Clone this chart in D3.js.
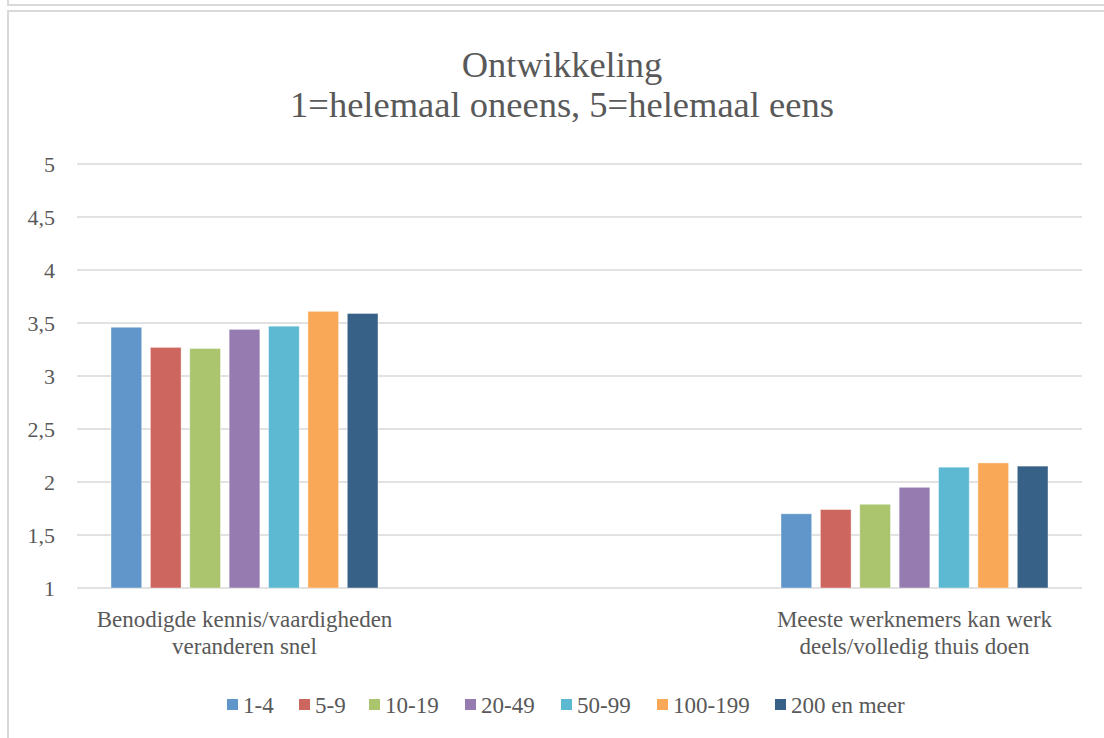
<!DOCTYPE html>
<html>
<head>
<meta charset="utf-8">
<script src="https://cdn.jsdelivr.net/npm/d3@7"></script>
<style>
  html, body { margin: 0; padding: 0; background: #fff; }
  svg { display: block; }
</style>
</head>
<body>
<svg id="chart" width="1104" height="738"></svg>
<script>
// ---- data ----
const titleLines = ["Ontwikkeling", "1=helemaal oneens, 5=helemaal eens"];
const categories = [
  ["Benodigde kennis/vaardigheden", "veranderen snel"],
  ["Meeste werknemers kan werk", "deels/volledig thuis doen"]
];
const seriesNames = ["1-4", "5-9", "10-19", "20-49", "50-99", "100-199", "200 en meer"];
const values1_4     = [3.46, 1.70];
const values5_9     = [3.27, 1.74];
const values10_19   = [3.26, 1.79];
const values20_49   = [3.44, 1.95];
const values50_99   = [3.47, 2.14];
const values100_199 = [3.61, 2.18];
const values200     = [3.59, 2.15];
const yTicks = [1, 1.5, 2, 2.5, 3, 3.5, 4, 4.5, 5];
const colors = ["#6096C9", "#CC665F", "#ABC46E", "#957BB0", "#5DB8D2", "#F9A857", "#376186"];

const seriesValues = [values1_4, values5_9, values10_19, values20_49, values50_99, values100_199, values200];
const catKeys = categories.map(c => c.join(" "));
const FONT = "Liberation Serif";
const TXT = "#595959";

const svg = d3.select("#chart");

// frame
svg.append("path").attr("d", "M8,0 V5 H1104").attr("fill", "none").attr("stroke", "#d9d9d9").attr("stroke-width", 2);
svg.append("path").attr("d", "M8,738 V11 H1104").attr("fill", "none").attr("stroke", "#d9d9d9").attr("stroke-width", 2);

const plot = { left: 77, right: 1082, top: 164, bottom: 588 };

const y = d3.scaleLinear().domain([1, 5]).range([plot.bottom, plot.top]);
const x0 = d3.scalePoint().domain(catKeys).range([plot.left, plot.right]).padding(0.25);
const x1 = d3.scaleBand().domain(seriesNames).range([-133.5, 133.5]).paddingInner(0.22).paddingOuter(0);

// gridlines
svg.append("g")
  .selectAll("line").data(yTicks).join("line")
  .attr("x1", plot.left).attr("x2", plot.right)
  .attr("y1", d => y(d)).attr("y2", d => y(d))
  .attr("stroke", "#d9d9d9").attr("stroke-width", 1.5);

// y axis labels
const fmt = d => String(d).replace(".", ",");
const yAxis = d3.axisLeft(y).tickValues(yTicks).tickFormat(fmt).tickSize(0).tickPadding(0);
const yg = svg.append("g").attr("transform", `translate(55,0)`).call(yAxis);
yg.attr("font-family", FONT).attr("font-size", 22);
yg.select(".domain").remove();
yg.selectAll("text").style("font-family", FONT).style("font-size", "22px").attr("fill", TXT);

// bars
const groups = svg.append("g").selectAll("g").data(catKeys).join("g")
  .attr("transform", d => `translate(${x0(d)},0)`);
groups.selectAll("rect")
  .data((d, ci) => seriesNames.map((s, si) => ({ s, si, v: seriesValues[si][ci] })))
  .join("rect")
  .attr("x", d => x1(d.s))
  .attr("width", x1.bandwidth())
  .attr("y", d => y(d.v))
  .attr("height", d => y(1) - y(d.v))
  .attr("fill", d => colors[d.si])
  .attr("stroke", "#ffffff").attr("stroke-opacity", 0.5).attr("stroke-width", 0.8);

// category labels
const catG = svg.append("g");
categories.forEach((lines, ci) => {
  const t = catG.append("text").attr("text-anchor", "middle")
    .style("font-family", FONT).style("font-size", "23px").attr("fill", TXT);
  lines.forEach((ln, li) => {
    t.append("tspan").attr("x", x0(catKeys[ci])).attr("y", 627 + li * 27).text(ln);
  });
});

// title
const tt = svg.append("text").attr("text-anchor", "middle")
  .style("font-family", FONT).style("font-size", "36.5px").attr("fill", TXT);
titleLines.forEach((ln, i) => {
  tt.append("tspan").attr("x", 562).attr("y", 77 + i * 40).text(ln);
});

// legend (item offsets are layout, not data)
const legendX = [227, 299, 369, 465, 561, 657, 775];
const leg = svg.append("g").attr("transform", "translate(0,705)");
const li = leg.selectAll("g").data(seriesNames).join("g")
  .attr("transform", (d, i) => `translate(${legendX[i]},0)`);
li.append("rect").attr("x", 0).attr("y", -6).attr("width", 11).attr("height", 11)
  .attr("fill", (d, i) => colors[i]);
li.append("text").attr("x", 16).attr("y", 8)
  .style("font-family", FONT).style("font-size", "23px").attr("fill", TXT).text(d => d);
</script>
</body>
</html>
